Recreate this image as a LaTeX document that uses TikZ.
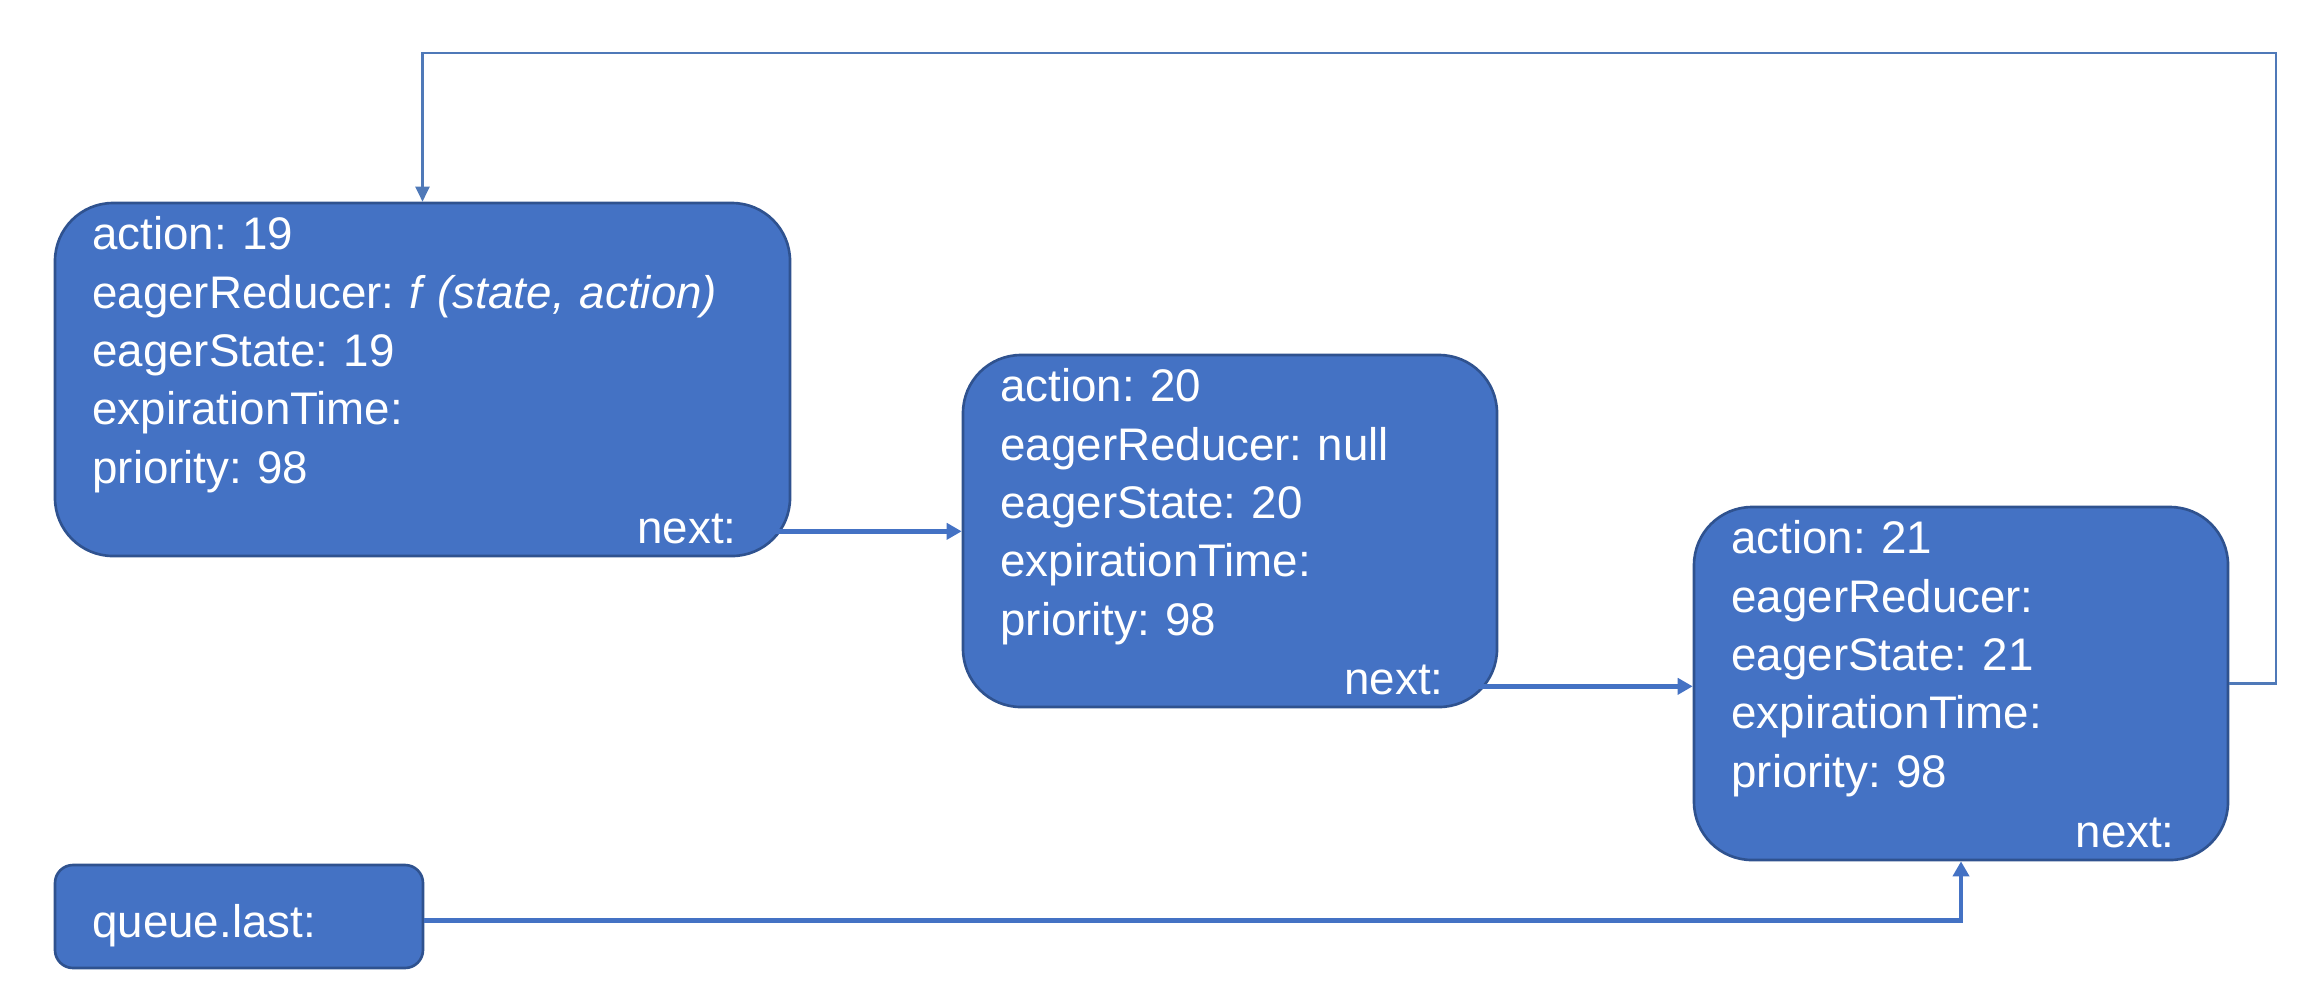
\documentclass[tikz,border=0pt]{standalone}
\usepackage{fontspec}
\setmainfont{Liberation Sans}
\frenchspacing
\usetikzlibrary{arrows.meta,calc}
\definecolor{Fill}{HTML}{4472C4}
\definecolor{Rim}{HTML}{2F528F}
\definecolor{Wire}{HTML}{4472C4}
\definecolor{Thread}{HTML}{4F79B8}
\tikzset{
  cellbox/.style={draw=Rim,fill=Fill,rounded corners=5.8mm,line width=0.75pt,inner sep=0pt},
  tagbox/.style={draw=Rim,fill=Fill,rounded corners=1.8mm,line width=0.75pt,inner sep=0pt},
  fields/.style={text=white,font=\fontsize{13}{16.6}\selectfont,align=left,text width=6.8cm,inner sep=0pt,anchor=base west},
  nextlbl/.style={text=white,font=\fontsize{13}{16.6}\selectfont,inner sep=0pt,anchor=base east},
  link/.style={-{Triangle[length=1.5mm,width=1.6mm]},draw=Wire,line width=1.3pt},
  backlink/.style={-{Triangle[length=1.5mm,width=1.4mm]},draw=Thread,line width=0.6pt}
}

\begin{document}
\begin{tikzpicture}
  \useasboundingbox (0,0) rectangle (23.04,-9.95);
  % update nodes of the queue
  \node[cellbox,minimum width=7.35cm,minimum height=3.53cm] (u19) at (4.225,-3.795) {};
  \node[cellbox,minimum width=5.34cm,minimum height=3.52cm] (u20) at (12.30,-5.31) {};
  \node[cellbox,minimum width=5.34cm,minimum height=3.53cm] (u21) at (19.61,-6.835) {};
  \node[tagbox,minimum width=3.68cm,minimum height=1.03cm] (uq) at (2.39,-9.165) {};
  \node[fields] (f19) at ([shift={(0.38,-0.48)}]u19.north west) {action: 19\\eagerReducer: \textit{f (state, action)}\\eagerState: 19\\expirationTime:\\priority: 98};
  \node[fields] (f20) at ([shift={(0.38,-0.48)}]u20.north west) {action: 20\\eagerReducer: null\\eagerState: 20\\expirationTime:\\priority: 98};
  \node[fields] (f21) at ([shift={(0.38,-0.48)}]u21.north west) {action: 21\\eagerReducer:\\eagerState: 21\\expirationTime:\\priority: 98};
  \node[nextlbl] (n19) at ([shift={(-0.54,0.14)}]u19.south east) {next:};
  \node[nextlbl] (n20) at ([shift={(-0.54,0.14)}]u20.south east) {next:};
  \node[nextlbl] (n21) at ([shift={(-0.54,0.14)}]u21.south east) {next:};
  \node[fields,text width=3cm] (q) at ([shift={(0.38,0.32)}]uq.south west) {queue.last:};
  % next pointers
  \coordinate (o19) at ([yshift=1.2mm]n19.base east);
  \coordinate (o20) at ([yshift=0.8mm]n20.base east);
  \draw[link] (o19) -- (o19 -| u20.west);
  \draw[link] (o20) -- (o20 -| u21.west);
  \draw[link] ([yshift=-0.4mm]uq.east) -| (u21.south);
  % circular link back to the first update
  \coordinate (top) at (4.225,-0.53);
  \draw[backlink] (u21.east) -- ++(0.47,0) |- (top) -- (u19.north);
\end{tikzpicture}
\end{document}
